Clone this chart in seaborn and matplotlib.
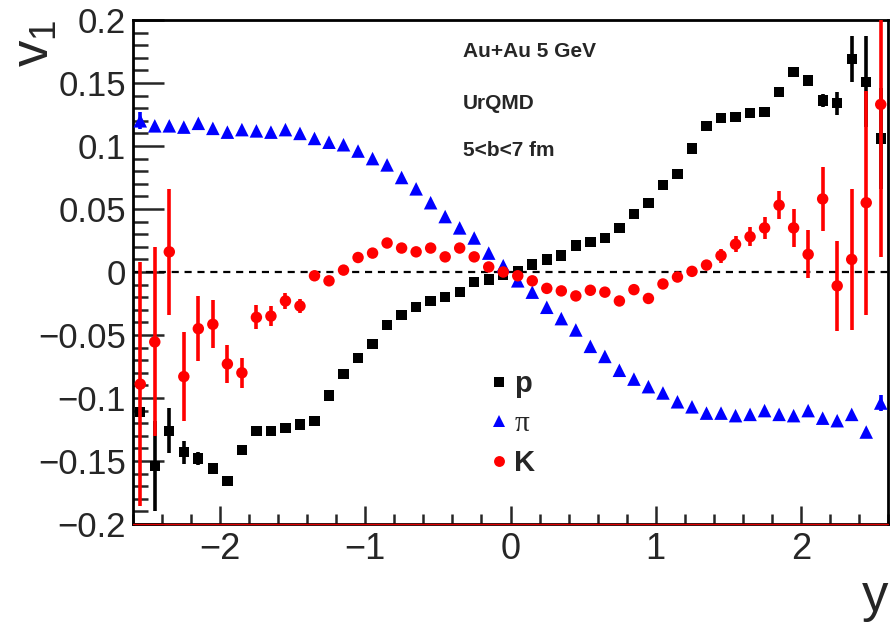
import matplotlib
matplotlib.use("Agg")
import matplotlib.pyplot as plt
import numpy as np
import pandas as pd
import seaborn as sns
from matplotlib.ticker import MultipleLocator, FuncFormatter
from matplotlib.lines import Line2D
from matplotlib.font_manager import FontProperties

# ---------------- data ----------------
rapidity = [-2.55, -2.45, -2.35, -2.25, -2.15, -2.05, -1.95, -1.85, -1.75, -1.65,
            -1.55, -1.45, -1.35, -1.25, -1.15, -1.05, -0.95, -0.85, -0.75, -0.65,
            -0.55, -0.45, -0.35, -0.25, -0.15, -0.05, 0.05, 0.15, 0.25, 0.35,
            0.45, 0.55, 0.65, 0.75, 0.85, 0.95, 1.05, 1.15, 1.25, 1.35,
            1.45, 1.55, 1.65, 1.75, 1.85, 1.95, 2.05, 2.15, 2.25, 2.35,
            2.45, 2.55]

proton_v1 = [-0.111, -0.154, -0.126, -0.143, -0.148, -0.156, -0.166, -0.141, -0.126, -0.126,
             -0.124, -0.121, -0.118, -0.098, -0.081, -0.068, -0.057, -0.042, -0.034, -0.028,
             -0.023, -0.020, -0.016, -0.008, -0.006, -0.002, 0.001, 0.006, 0.010, 0.013,
             0.021, 0.024, 0.027, 0.035, 0.046, 0.055, 0.069, 0.078, 0.098, 0.116,
             0.122, 0.123, 0.126, 0.127, 0.143, 0.159, 0.152, 0.136, 0.134, 0.169,
             0.151, 0.106]
proton_err = [0.004, 0.036, 0.018, 0.009, 0.005, 0.002, 0.002, 0.002, 0.002, 0.002,
              0.002, 0.002, 0.002, 0.002, 0.002, 0.002, 0.002, 0.002, 0.002, 0.002,
              0.002, 0.002, 0.002, 0.002, 0.002, 0.002, 0.002, 0.002, 0.002, 0.002,
              0.002, 0.002, 0.002, 0.002, 0.002, 0.002, 0.002, 0.002, 0.002, 0.002,
              0.002, 0.002, 0.002, 0.002, 0.002, 0.002, 0.002, 0.005, 0.009, 0.018,
              0.036, 0.040]

pion_v1 = [0.120, 0.116, 0.116, 0.115, 0.118, 0.114, 0.111, 0.113, 0.112, 0.111,
           0.113, 0.110, 0.106, 0.103, 0.101, 0.096, 0.090, 0.085, 0.075, 0.066,
           0.055, 0.044, 0.035, 0.027, 0.015, 0.005, -0.007, -0.016, -0.028, -0.037,
           -0.046, -0.059, -0.067, -0.078, -0.085, -0.091, -0.096, -0.103, -0.107, -0.112,
           -0.112, -0.114, -0.113, -0.110, -0.113, -0.114, -0.110, -0.116, -0.118, -0.113,
           -0.127, -0.104]
pion_err = [0.0066, 0.001, 0.001, 0.001, 0.001, 0.001, 0.001, 0.001, 0.001, 0.001,
            0.001, 0.001, 0.001, 0.001, 0.001, 0.001, 0.001, 0.001, 0.001, 0.001,
            0.001, 0.001, 0.001, 0.001, 0.001, 0.001, 0.001, 0.001, 0.001, 0.001,
            0.001, 0.001, 0.001, 0.001, 0.001, 0.001, 0.001, 0.001, 0.001, 0.001,
            0.001, 0.001, 0.001, 0.001, 0.001, 0.001, 0.001, 0.001, 0.001, 0.001,
            0.001, 0.006]

kaon_v1 = [-0.089, -0.0555, 0.016, -0.083, -0.045, -0.0415, -0.073, -0.080, -0.036, -0.035,
           -0.023, -0.027, -0.003, -0.007, 0.0015, 0.0115, 0.015, 0.023, 0.019, 0.016,
           0.019, 0.012, 0.019, 0.012, 0.004, 0.000, -0.003, -0.007, -0.013, -0.015,
           -0.019, -0.0145, -0.016, -0.023, -0.014, -0.021, -0.0095, -0.004, 0.0005, 0.0055,
           0.013, 0.022, 0.028, 0.035, 0.053, 0.035, 0.014, 0.058, -0.011, 0.010,
           0.055, 0.133]
kaon_err = [0.097, 0.075, 0.050, 0.035, 0.026, 0.019, 0.015, 0.012, 0.0096, 0.008,
            0.006, 0.0055, 0.003, 0.003, 0.003, 0.003, 0.003, 0.003, 0.003, 0.003,
            0.003, 0.003, 0.003, 0.003, 0.003, 0.003, 0.003, 0.003, 0.003, 0.003,
            0.003, 0.003, 0.003, 0.003, 0.003, 0.003, 0.003, 0.003, 0.003, 0.004,
            0.0055, 0.0064, 0.0075, 0.009, 0.011, 0.015, 0.019, 0.0255, 0.0355, 0.056,
            0.089, 0.121]

species = ["p", "π", "K"]
annotations = ["Au+Au 5 GeV", "UrQMD", "5<b<7 fm"]
x_ticks = [-2, -1, 0, 1, 2]
y_ticks = [-0.2, -0.15, -0.1, -0.05, 0, 0.05, 0.1, 0.15, 0.2]

# ---------------- build table ----------------
frames = []
for name, vals, errs in [("p", proton_v1, proton_err),
                         ("π", pion_v1, pion_err),
                         ("K", kaon_v1, kaon_err)]:
    frames.append(pd.DataFrame({"y": rapidity, "v1": vals, "err": errs, "species": name}))
df = pd.concat(frames, ignore_index=True)

# ---------------- style ----------------
sns.set_style("white")
plt.rcParams["font.family"] = ["Liberation Sans", "DejaVu Sans"]
plt.rcParams["mathtext.fontset"] = "custom"
plt.rcParams["mathtext.rm"] = "Liberation Sans"
plt.rcParams["mathtext.it"] = "Liberation Sans"
plt.rcParams["mathtext.default"] = "regular"

colors = {"p": "black", "π": "#0000ff", "K": "#ff0000"}
markers = {"p": "s", "π": "^", "K": "o"}
sizes = {"p": 55, "π": 95, "K": 68}

fig = plt.figure(figsize=(8.93, 6.24), dpi=100)
ax = fig.add_axes([133 / 893, 100 / 624, 755 / 893, 504 / 624])

for i, sp in enumerate(species):
    sub = df[df["species"] == sp]
    z = 3 + i
    ax.errorbar(sub["y"], sub["v1"], yerr=sub["err"], fmt="none",
                ecolor=colors[sp], elinewidth=2.6, capsize=0, zorder=z)
    sns.scatterplot(data=sub, x="y", y="v1", marker=markers[sp], color=colors[sp],
                    s=sizes[sp], linewidth=0, edgecolor="none", legend=False,
                    ax=ax, zorder=z + 0.1)

ax.axhline(0, color="black", lw=1.6, ls=(0, (3.2, 2.6)), zorder=2)

ax.set_xlim(-2.6, 2.6)
ax.set_ylim(-0.2, 0.2)

ax.xaxis.set_major_locator(MultipleLocator(1))
ax.xaxis.set_minor_locator(MultipleLocator(0.2))
ax.yaxis.set_major_locator(MultipleLocator(0.05))
ax.yaxis.set_minor_locator(MultipleLocator(0.01))
ax.set_xticks(x_ticks)
ax.set_yticks(y_ticks)

def fmt(v, pos):
    s = f"{v:g}"
    if abs(v) < 1e-9:
        s = "0"
    return s.replace("-", "\u2212")

ax.xaxis.set_major_formatter(FuncFormatter(fmt))
ax.yaxis.set_major_formatter(FuncFormatter(fmt))

ax.tick_params(axis="x", which="major", direction="in", length=13, width=1.8,
               labelsize=26, pad=6, top=False, bottom=True)
ax.tick_params(axis="x", which="minor", direction="in", length=7, width=1.8,
               top=False, bottom=True)
ax.tick_params(axis="y", which="major", direction="in", length=22, width=1.8,
               labelsize=25, pad=5, left=True, right=False)
ax.tick_params(axis="y", which="minor", direction="in", length=11, width=1.8,
               left=True, right=False)

for side in ["left", "right", "top", "bottom"]:
    ax.spines[side].set_visible(True)
    ax.spines[side].set_color("black")
    ax.spines[side].set_linewidth(2.0)
ax.axhline(-0.2, color="#e00000", lw=1.0, zorder=10, clip_on=False)

ax.set_xlabel("y", fontsize=38, loc="right")
ax.xaxis.set_label_coords(1.0, -0.095)
ax.set_ylabel("v$_{1}$", fontsize=38, loc="top")
ax.yaxis.set_label_coords(-0.097, 1.0)

ann_y = [0.937, 0.835, 0.742]
for txt, yy in zip(annotations, ann_y):
    ax.text(0.437, yy, txt, transform=ax.transAxes, fontsize=15, fontweight="bold",
            ha="left", va="center")

handles = [Line2D([], [], ls="none", marker=markers[sp], color=colors[sp],
                  markersize=np.sqrt(sizes[sp]) * 0.95, markeredgewidth=0)
           for sp in species]
leg = ax.legend(handles, species, loc="upper left", bbox_to_anchor=(0.474, 0.305),
                frameon=False, fontsize=21, handlelength=0.55, handletextpad=0.25,
                labelspacing=0.42, borderpad=0, borderaxespad=0)
texts = leg.get_texts()
texts[0].set_fontproperties(FontProperties(family="Liberation Sans", weight="bold", size=21))
texts[1].set_fontproperties(FontProperties(family="Liberation Serif", size=21))
texts[2].set_fontproperties(FontProperties(family="Liberation Sans", weight="bold", size=21))

fig.savefig("out.png", dpi=100, facecolor="white")
